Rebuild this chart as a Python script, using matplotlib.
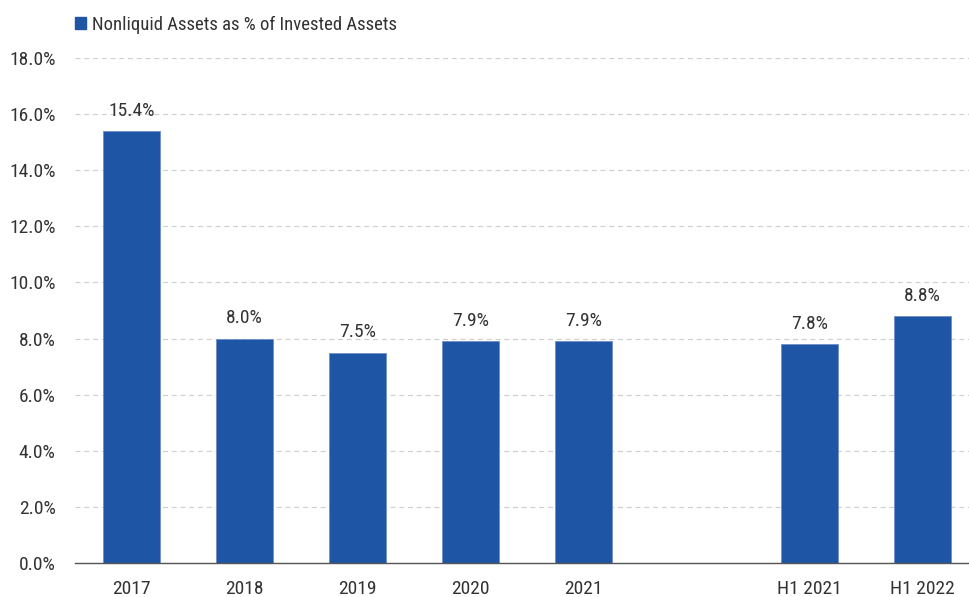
import matplotlib.pyplot as plt
from matplotlib.patches import Patch
from matplotlib import font_manager

# prefer Roboto Condensed, otherwise any condensed face that is installed
names = sorted({f.name for f in font_manager.fontManager.ttflist})
condensed = [n for n in names if "Condensed" in n or "Narrow" in n]
if "Roboto Condensed" in condensed:
    condensed.insert(0, "Roboto Condensed")
plt.rcParams['font.family'] = condensed[:1] + ['DejaVu Sans']
plt.rcParams['font.stretch'] = 'condensed'

labels = ["2017", "2018", "2019", "2020", "2021", "H1 2021", "H1 2022"]
positions = [0, 1, 2, 3, 4, 6, 7]
values = [15.4, 8.0, 7.5, 7.9, 7.9, 7.8, 8.8]
series_name = "Nonliquid Assets as % of Invested Assets"

bar_color = "#1f55a5"
text_color = "#333333"

fig = plt.figure(figsize=(9.69, 5.97), dpi=100)
ax = fig.add_axes([75 / 969, 1 - 563 / 597, 1 - 75 / 969, (563 - 58) / 597])

ax.bar(positions, values, width=0.5, color=bar_color, edgecolor="#6f8fc8", linewidth=0.6, zorder=3)
for x, v in zip(positions, values):
    ax.annotate(f"{v:.1f}%", (x, v), xytext=(0, 8), textcoords="offset points",
                ha="center", va="bottom", fontsize=14, color=text_color)

ax.set_xlim(-0.5, 7.41)
ax.set_ylim(0, 18)
ax.set_yticks(range(0, 19, 2))
ax.set_yticklabels([f"{t:.1f}%" for t in range(0, 19, 2)])
ax.set_xticks(positions)
ax.set_xticklabels(labels)
ax.tick_params(axis="both", length=0, labelsize=14, colors=text_color)
ax.tick_params(axis="y", pad=14)
ax.tick_params(axis="x", pad=12)

ax.grid(axis="y", color="#d0d0d0", linestyle=(0, (4, 3)), linewidth=0.9, zorder=0)
for s in ["top", "right", "left"]:
    ax.spines[s].set_visible(False)
ax.spines["bottom"].set_color("#555555")
ax.spines["bottom"].set_linewidth(1.0)
ax.spines["bottom"].set_zorder(4)

handle = Patch(facecolor=bar_color, edgecolor=bar_color)
fig.legend([handle], [series_name], loc="upper left", bbox_to_anchor=(58 / 969, 1 + 1 / 597),
           frameon=False, fontsize=13.5, handlelength=0.6, handleheight=0.6, handletextpad=0.3,
           labelcolor=text_color)

fig.savefig("out.png", dpi=100)
